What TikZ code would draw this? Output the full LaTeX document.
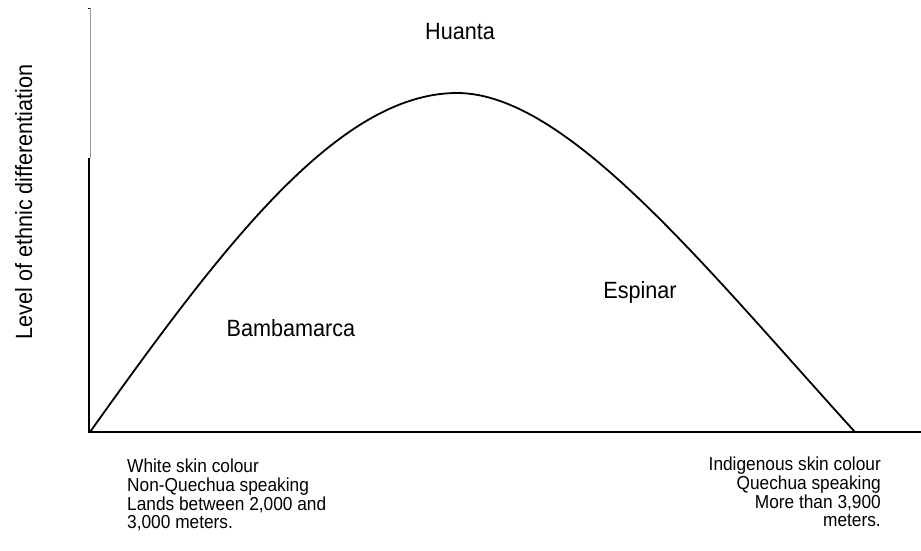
\documentclass[tikz,border=0pt]{standalone}
\usepackage{fontspec}
\setmainfont{Liberation Sans}
\newfontfamily\labfont[FakeStretch=0.92]{Liberation Sans}
\newfontfamily\notefont[FakeStretch=0.92]{Liberation Sans}
\begin{document}
\begin{tikzpicture}[x=1pt,y=-1pt,
  lab/.style={font=\labfont\fontsize{23.5}{26}\selectfont, inner sep=0pt},
  note/.style={font=\notefont\fontsize{18.8}{18.6}\selectfont, inner sep=0pt},
  axisline/.style={line width=2pt, black},
  curveline/.style={line width=1.8pt, black}]
\useasboundingbox (0,0) rectangle (921,550);
% axes coordinates
\coordinate (top) at (90,8);
\coordinate (mid) at (89,158);
\coordinate (o) at (89,432);
\coordinate (xend) at (921,432);
% axes
\draw[line width=1pt, black!40] (90,8) -- (90,158);
\draw[line width=1pt, black] (88,8) -- (top);
\draw[line width=2.6pt, black] (mid) -- (o |- 0,433);
\draw[axisline] (o) -- (xend);
% curve
\coordinate (start) at (90,432);
\coordinate (peak) at (457,93);
\coordinate (stop) at (855,432);
\draw[curveline] (start) .. controls (220,250) and (337,93) .. (peak)
                         .. controls (567,93) and (705,267) .. (stop);
% labels
\node[lab, anchor=base] (huanta) at (460,39) {Huanta};
\node[lab, anchor=base] (bamba) at (291,336) {Bambamarca};
\node[lab, anchor=base] (espinar) at (640,298) {Espinar};
\node[lab, anchor=base, rotate=90] (ylab) at (32,202) {Level of ethnic differentiation};
\node[note, anchor=north west, align=left] (left) at (127,459) {White skin colour\\Non-Quechua speaking\\Lands between 2,000 and\\3,000 meters.};
\node[note, anchor=north east, align=right] (right) at (881,457) {Indigenous skin colour\\Quechua speaking\\More than 3,900\\meters.};
\end{tikzpicture}
\end{document}
